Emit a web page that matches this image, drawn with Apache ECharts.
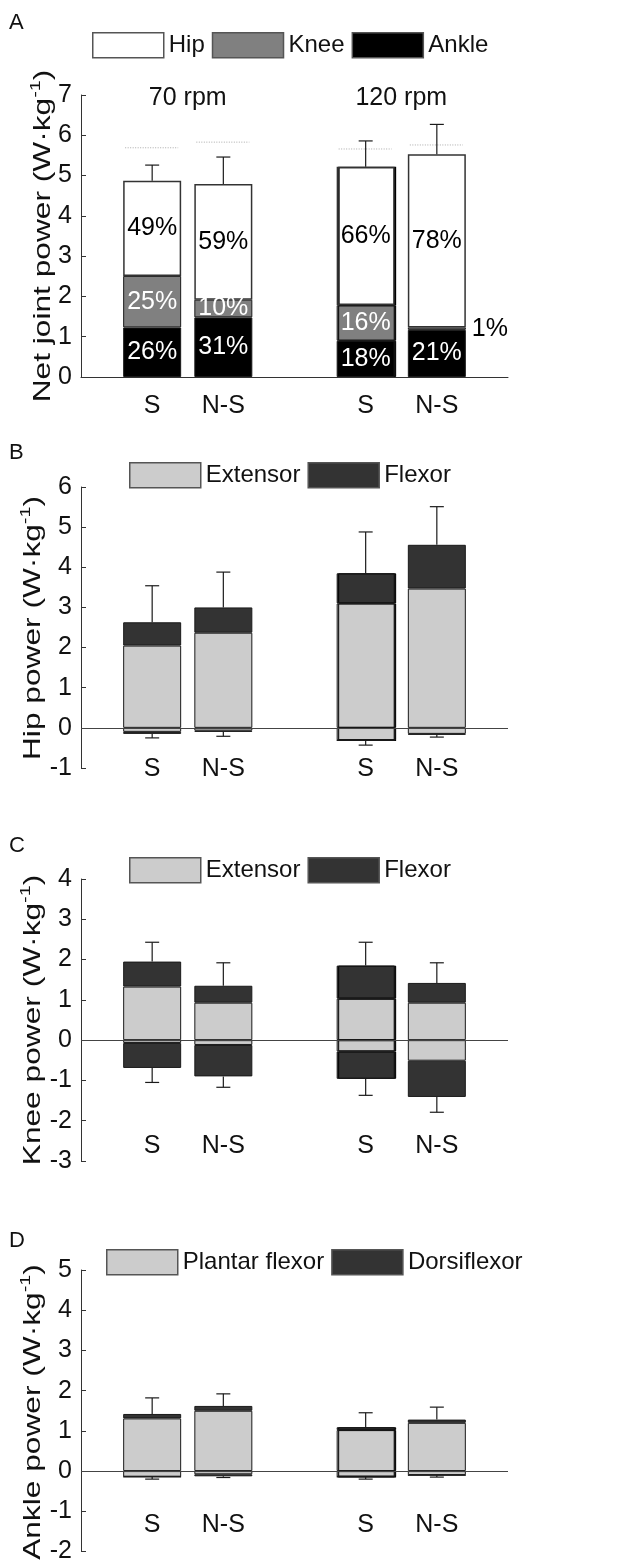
<!DOCTYPE html>
<html><head><meta charset="utf-8">
<script src="https://cdn.jsdelivr.net/npm/echarts@6/dist/echarts.min.js"></script>
<style>html,body{margin:0;padding:0;background:#fff}#c{width:630px;height:1564px}</style>
</head><body><div id="c"></div>
<script>
// ---------- data ----------
const slots = ['', 'S', 'N-S', '', 'S', 'N-S', ''];
const barSlots = [1, 2, 4, 5];
const groupLabels = ['70 rpm', '120 rpm'];
const panelLetters = ['A', 'B', 'C', 'D'];
const yTitles = ['Net joint power (W·kg', 'Hip power (W·kg', 'Knee power (W·kg', 'Ankle power (W·kg'];
const yRangeA = [0, 7];
const yRangeB = [-1, 6];
const yRangeC = [-3, 4];
const yRangeD = [-2, 5];
const legendA = ['Hip', 'Knee', 'Ankle'];
const legendB = ['Extensor', 'Flexor'];
const legendC = ['Extensor', 'Flexor'];
const legendD = ['Plantar flexor', 'Dorsiflexor'];

// Panel A: net joint power segments (W/kg) and shares
const aAnkle = [1.23, 1.48, 0.90, 1.17];
const aKnee = [1.28, 0.44, 0.88, 0.06];
const aHip = [2.36, 2.87, 3.44, 4.30];
const aAnklePct = [26, 31, 18, 21];
const aKneePct = [25, 10, 16, 1];
const aHipPct = [49, 59, 66, 78];
const aErrTop = [5.26, 5.46, 5.86, 6.27];
const aRef = [5.69, 5.83, 5.66, 5.76];

// Panel B: hip
const bExtPos = [2.05, 2.37, 3.10, 3.47];
const bFlexPos = [0.58, 0.63, 0.75, 1.09];
const bExtNeg = [-0.10, -0.07, -0.31, -0.15];
const bFlexNeg = [-0.05, -0.03, -0.005, -0.02];
const bErrTop = [3.54, 3.88, 4.88, 5.51];
const bErrBot = [-0.25, -0.21, -0.43, -0.23];

// Panel C: knee
const cExtPos = [1.33, 0.93, 1.03, 0.93];
const cFlexPos = [0.62, 0.42, 0.82, 0.49];
const cExtNeg = [-0.07, -0.12, -0.28, -0.51];
const cFlexNeg = [-0.62, -0.78, -0.68, -0.90];
const cErrTop = [2.43, 1.92, 2.43, 1.92];
const cErrBot = [-1.05, -1.17, -1.37, -1.79];

// Panel D: ankle
const dPFPos = [1.31, 1.50, 1.02, 1.20];
const dDFPos = [0.11, 0.12, 0.07, 0.08];
const dPFNeg = [-0.14, -0.08, -0.14, -0.10];
const dDFNeg = [-0.005, -0.05, -0.005, -0.005];
const dErrTop = [1.82, 1.92, 1.45, 1.59];
const dErrBot = [-0.20, -0.16, -0.20, -0.15];

// ---------- helpers ----------
const FONT = "'Liberation Sans', Arial, Helvetica, sans-serif";
const FS = 25;
const TXT = '#111';
const BW = 58;
const LIGHT = '#cccccc', DARK = '#333333', KNEE = '#808080', ANK = '#000000';
const EDGE_SLOT = 4; // bar drawn with a heavier right edge in the original

function slotData(arr, mapFn) {
  const out = slots.map(() => null);
  barSlots.forEach((s, i) => {
    let item = { value: arr[i] };
    if (s === EDGE_SLOT) item.itemStyle = { shadowColor: '#000', shadowOffsetX: 1.5, shadowOffsetY: 0, shadowBlur: 0 };
    if (mapFn) item = mapFn(item, arr[i], i);
    out[s] = item;
  });
  return out;
}
function sum(a, b) { return a.map((v, i) => v + b[i]); }
function sum3(a, b, c) { return a.map((v, i) => v + b[i] + c[i]); }

function bar(name, arr, color, xi, yi, stack, extra) {
  return Object.assign({
    type: 'bar', name, xAxisIndex: xi, yAxisIndex: yi, stack, barWidth: BW,
    data: slotData(arr),
    itemStyle: { color, borderColor: '#1a1a1a', borderWidth: 1 },
    emphasis: { disabled: true }, silent: true, animation: false
  }, extra || {});
}
function pctLabel(pcts, color) {
  return {
    show: true, position: 'inside', fontSize: FS, fontFamily: FONT, color,
    formatter: p => pcts[barSlots.indexOf(p.dataIndex)] + '%'
  };
}
function errSeries(xi, yi, bases, ends) {
  return {
    type: 'custom', xAxisIndex: xi, yAxisIndex: yi, z: 5, silent: true, animation: false,
    data: barSlots.map((s, i) => [s, bases[i], ends[i]]),
    renderItem(params, api) {
      const p0 = api.coord([api.value(0), api.value(1)]);
      const p1 = api.coord([api.value(0), api.value(2)]);
      const st = { stroke: '#1a1a1a', lineWidth: 1.2 };
      return { type: 'group', children: [
        { type: 'line', shape: { x1: p0[0], y1: p0[1], x2: p1[0], y2: p1[1] }, style: st },
        { type: 'line', shape: { x1: p1[0] - 7, y1: p1[1], x2: p1[0] + 7, y2: p1[1] }, style: st }
      ] };
    }
  };
}
function refSeries(xi, yi, vals) {
  return {
    type: 'custom', xAxisIndex: xi, yAxisIndex: yi, z: 4, silent: true, animation: false,
    data: barSlots.map((s, i) => [s, vals[i]]),
    renderItem(params, api) {
      const p = api.coord([api.value(0), api.value(1)]);
      return { type: 'line', shape: { x1: p[0] - BW / 2 + 2, y1: p[1], x2: p[0] + BW / 2 - 3, y2: p[1] },
        style: { stroke: '#aaaaaa', lineWidth: 1, lineDash: [1, 1.5] } };
    }
  };
}
const zeroLine = {
  silent: true, symbol: 'none', label: { show: false },
  lineStyle: { color: '#444', width: 1, type: 'solid' }, data: [{ yAxis: 0 }], animation: false
};
function yAx(gi, range) {
  return {
    type: 'value', gridIndex: gi, min: range[0], max: range[1], interval: 1,
    axisLine: { show: true, lineStyle: { color: '#333', width: 1 } },
    axisTick: { show: true, inside: true, length: 5, lineStyle: { color: '#333' } },
    axisLabel: { fontSize: FS, color: TXT, margin: 9, fontFamily: FONT },
    splitLine: { show: false }
  };
}
function xAxLower(gi, offset) {
  return {
    type: 'category', gridIndex: gi, data: slots, boundaryGap: false, offset,
    axisLine: { show: false, onZero: false }, axisTick: { show: false },
    axisLabel: { interval: 0, fontSize: FS, color: TXT, margin: 8, fontFamily: FONT }
  };
}
function legend(data, left, top) {
  return {
    data, left, top, padding: 0, itemWidth: 71, itemHeight: 25, itemGap: 7, icon: 'rect', selectedMode: false,
    textStyle: { fontSize: 24, color: TXT, fontFamily: FONT, padding: [0, 0, 0, 0] },
    itemStyle: { borderColor: '#555', borderWidth: 1.5, shadowOffsetX: 0, shadowColor: 'transparent' }
  };
}
function yTitle(text, cx, cy) {
  return {
    type: 'text', x: cx, y: cy, rotation: Math.PI / 2, scaleX: 1.32, silent: true,
    style: {
      text: '{a|' + text + '}{s|-1}{a|)}', align: 'center', verticalAlign: 'middle',
      rich: {
        a: { fontSize: 24, fontFamily: FONT, fill: TXT, lineHeight: 30 },
        s: { fontSize: 15, fontFamily: FONT, fill: TXT, lineHeight: 16, verticalAlign: 'top' }
      }
    }
  };
}
function letter(t, y) {
  return { type: 'text', x: 9, y, silent: true, style: { text: t, fontSize: 22, fontFamily: FONT, fill: TXT } };
}

// ---------- option ----------
const grids = [
  { left: 81, width: 427, top: 95, height: 282 },
  { left: 81, width: 427, top: 487, height: 281 },
  { left: 81, width: 427, top: 879, height: 282 },
  { left: 81, width: 427, top: 1270, height: 284 }
];

const aTotal = sum3(aAnkle, aKnee, aHip);
const bTop = sum(bExtPos, bFlexPos), bBot = sum(bExtNeg, bFlexNeg);
const cTop = sum(cExtPos, cFlexPos), cBot = sum(cExtNeg, cFlexNeg);
const dTop = sum(dPFPos, dDFPos), dBot = sum(dPFNeg, dDFNeg);

const kneeA = bar(legendA[1], aKnee, KNEE, 0, 0, 'A', { label: pctLabel(aKneePct, '#fff') });
kneeA.data = slotData(aKnee, (item, v) => {
  if (v < 0.2) item.label = { position: 'right', distance: 6, color: '#000' };
  return item;
});

const option = {
  backgroundColor: '#fff',
  animation: false,
  grid: grids,
  legend: [
    legend(legendA, 92, 32),
    legend(legendB, 129, 462),
    legend(legendC, 129, 857),
    legend(legendD, 106, 1249)
  ],
  xAxis: [
    {
      type: 'category', gridIndex: 0, data: slots, boundaryGap: false,
      axisLine: { show: true, onZero: false, lineStyle: { color: '#333' } },
      axisTick: { show: true, inside: true, length: 4, interval: (i, v) => v !== '', lineStyle: { color: '#999' } },
      axisLabel: { interval: 0, fontSize: FS, color: TXT, margin: 17, fontFamily: FONT }
    },
    {
      type: 'category', gridIndex: 0, position: 'top', data: groupLabels, boundaryGap: true, offset: -24,
      axisLine: { show: false, onZero: false }, axisTick: { show: false },
      axisLabel: { interval: 0, fontSize: FS, color: TXT, margin: 8, fontFamily: FONT }
    },
    xAxLower(1, -19),
    xAxLower(2, -35),
    xAxLower(3, -47)
  ],
  yAxis: [yAx(0, yRangeA), yAx(1, yRangeB), yAx(2, yRangeC), yAx(3, yRangeD)],
  series: [
    // A
    bar(legendA[2], aAnkle, ANK, 0, 0, 'A', { label: pctLabel(aAnklePct, '#fff') }),
    kneeA,
    bar(legendA[0], aHip, '#ffffff', 0, 0, 'A', { label: pctLabel(aHipPct, '#000'), itemStyle: { color: '#fff', borderColor: '#333', borderWidth: 1.5 } }),
    refSeries(0, 0, aRef),
    errSeries(0, 0, aTotal, aErrTop),
    // B
    bar(legendB[0], bExtPos, LIGHT, 2, 1, 'B', { markLine: zeroLine }),
    bar(legendB[1], bFlexPos, DARK, 2, 1, 'B'),
    bar(legendB[0], bExtNeg, LIGHT, 2, 1, 'B'),
    bar(legendB[1], bFlexNeg, DARK, 2, 1, 'B'),
    errSeries(2, 1, bTop, bErrTop),
    errSeries(2, 1, bBot, bErrBot),
    // C
    bar(legendC[0], cExtPos, LIGHT, 3, 2, 'C', { markLine: zeroLine }),
    bar(legendC[1], cFlexPos, DARK, 3, 2, 'C'),
    bar(legendC[0], cExtNeg, LIGHT, 3, 2, 'C'),
    bar(legendC[1], cFlexNeg, DARK, 3, 2, 'C'),
    errSeries(3, 2, cTop, cErrTop),
    errSeries(3, 2, cBot, cErrBot),
    // D
    bar(legendD[0], dPFPos, LIGHT, 4, 3, 'D', { markLine: zeroLine }),
    bar(legendD[1], dDFPos, DARK, 4, 3, 'D'),
    bar(legendD[0], dPFNeg, LIGHT, 4, 3, 'D'),
    bar(legendD[1], dDFNeg, DARK, 4, 3, 'D'),
    errSeries(4, 3, dTop, dErrTop),
    errSeries(4, 3, dBot, dErrBot)
  ],
  graphic: [
    letter(panelLetters[0], 12), letter(panelLetters[1], 442),
    letter(panelLetters[2], 835), letter(panelLetters[3], 1230),
    yTitle(yTitles[0], 43, 236), yTitle(yTitles[1], 33, 628),
    yTitle(yTitles[2], 33, 1020), yTitle(yTitles[3], 33, 1412)
  ]
};

const chart = echarts.init(document.getElementById('c'), null, { renderer: 'canvas' });
chart.setOption(option);
</script>
</body></html>
